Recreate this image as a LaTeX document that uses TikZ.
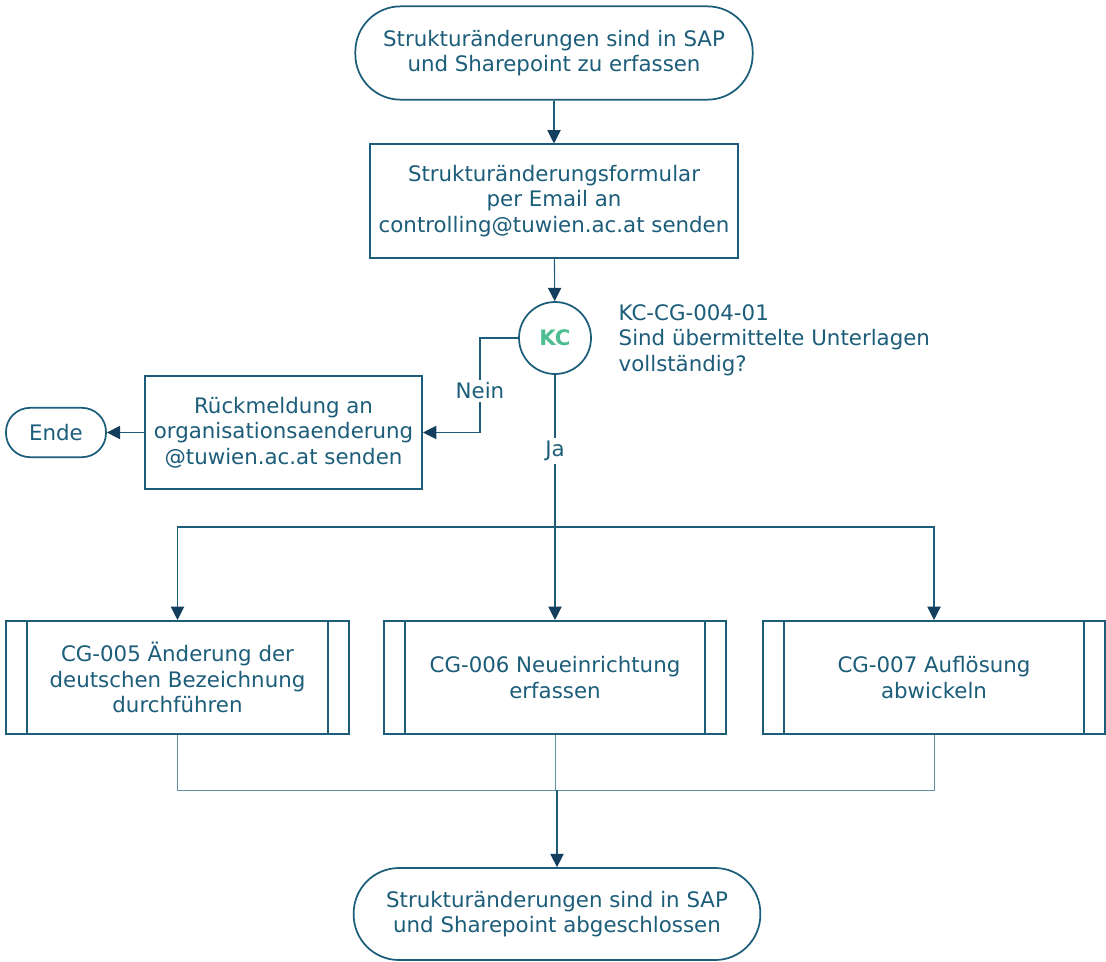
\documentclass[tikz,border=0pt]{standalone}
\usepackage{fontspec}
\setmainfont{DejaVu Sans}
\definecolor{TUteal}{RGB}{28,93,122}
\definecolor{TUnavy}{RGB}{20,62,94}
\definecolor{KCgreen}{RGB}{76,190,145}
\definecolor{MergeLine}{RGB}{95,145,165}
\usetikzlibrary{arrows.meta, positioning}

\begin{document}
\begin{tikzpicture}[x=0.75pt, y=-0.75pt,
      every node/.style={font=\fontsize{16pt}{19pt}\selectfont, text=TUteal},
      terminal/.style={draw=TUteal, line width=1.3pt, rounded corners=34pt,
                       minimum width=298pt, minimum height=70pt, align=center},
      process/.style={draw=TUteal, line width=1.3pt, minimum height=85pt, align=center},
      subproc/.style={process, minimum width=257pt},
      control/.style={draw=TUteal, line width=1.3pt, circle, minimum size=54pt, inner sep=0pt,
                      font=\fontsize{16pt}{19pt}\selectfont\bfseries, text=KCgreen},
      flow/.style={draw=TUteal, line width=0.8pt, -{Triangle[length=10pt,width=10pt,color=TUnavy]}},
      merge/.style={draw=MergeLine, line width=0.7pt},
      lbl/.style={fill=white, inner sep=2pt}
    ]
      \fill[white] (0,0) rectangle (1106,961);
      \useasboundingbox (0,0) rectangle (1106,961);

      % main column
      \node[terminal] (start) at (554,53) {Strukturänderungen sind in SAP\\und Sharepoint zu erfassen};
      \node[process, minimum width=276pt] (form) at (554,201) {Strukturänderungsformular\\per Email an\\controlling@tuwien.ac.at senden};
      \node[control] (kc) at (555,338) {KC};
      \node[anchor=north west, align=left] (kcnote) at (614,300) {KC-CG-004-01\\Sind übermittelte Unterlagen\\vollständig?};

      % Nein branch
      \node[process, minimum width=208pt] (reply) at (283.5,432.5) {Rückmeldung an\\organisationsaenderung\\@tuwien.ac.at senden};
      \node[terminal, minimum width=75pt, minimum height=37pt, rounded corners=18pt] (ende) at (56,432.5) {Ende};

      % sub processes
      \node[subproc] (cgA) at (177.5,677.5) {CG-005 Änderung der\\deutschen Bezeichnung\\durchführen};
      \node[subproc] (cgB) at (555,677.5) {CG-006 Neueinrichtung\\erfassen};
      \node[subproc] (cgC) at (934,677.5) {CG-007 Auflösung\\abwickeln};
      \foreach \n in {cgA,cgB,cgC} {
        \draw[TUteal, line width=1.3pt]
          ([xshift=16.5pt]\n.north west) -- ([xshift=16.5pt]\n.south west)
          ([xshift=-16.5pt]\n.north east) -- ([xshift=-16.5pt]\n.south east);
      }

      \node[terminal, minimum width=305pt, minimum height=69pt] (finish) at (557,914) {Strukturänderungen sind in SAP\\und Sharepoint abgeschlossen};

      \coordinate (nein) at (480,338);
      \coordinate (split) at (555,527);
      \coordinate (join) at (557,790);

      % connectors
      \draw[flow] (start) -- (form);
      \draw[flow] (form) -- (kc);
      \draw[flow] (kc.west) -- (nein) |- node[lbl, pos=0.28] {Nein} (reply.east);
      \draw[flow] (reply.west) -- (ende.east);
      \draw[draw=TUteal, line width=0.8pt] (kc.south) -- node[lbl] {Ja} (split);
      \draw[flow] (split) -- (cgB);
      \draw[flow] (split) -| (cgA);
      \draw[flow] (split) -| (cgC);
      \draw[merge] (cgA.south) |- (join) -| (cgC.south);
      \draw[merge] (cgB.south) -- (cgB.south |- join);
      \draw[flow] (join) -- (finish);
    \end{tikzpicture}
\end{document}
